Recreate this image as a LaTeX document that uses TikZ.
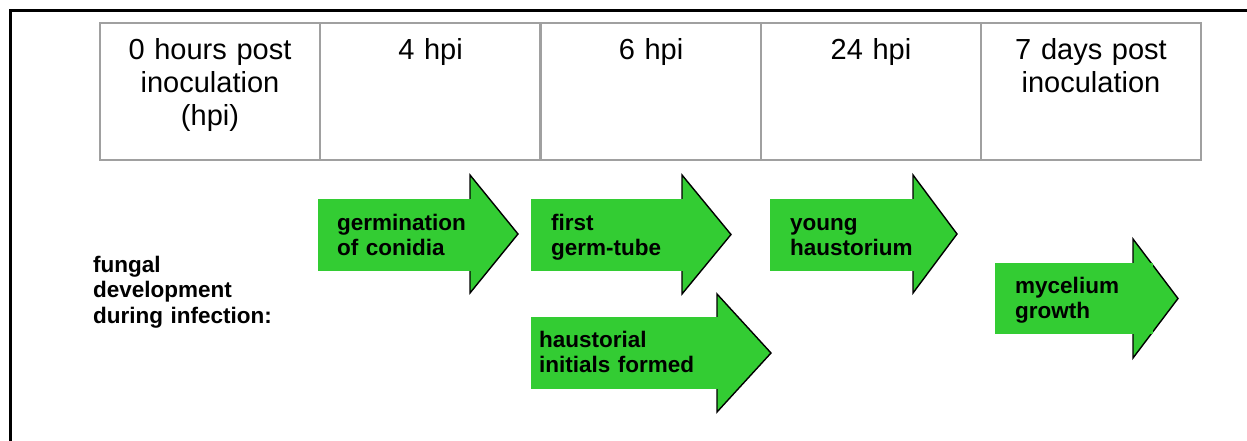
\documentclass[tikz,border=0pt]{standalone}
\usepackage{fontspec}
\setmainfont{Liberation Sans}
\definecolor{arrowgreen}{RGB}{51,204,51}
\definecolor{gridgray}{RGB}{160,160,160}
\begin{document}
\begin{tikzpicture}[x=1pt,y=-1pt,
  frameline/.style={line width=3pt,black},
  cellbox/.style={draw=gridgray,line width=1.2pt},
  headtext/.style={anchor=base,inner sep=0pt,text width=215pt,align=center,font=\fontsize{29}{33}\selectfont},
  lbl/.style={anchor=base west,inner sep=0pt,text width=220pt,align=left,font=\fontsize{22.5}{25.7}\selectfont\bfseries},
  headpart/.style={fill=arrowgreen,draw=black,line width=1.4pt,line join=miter},
  shaft/.style={fill=arrowgreen}]
\useasboundingbox (0,0) rectangle (1247,441);
% frame
\draw[frameline] (10.5,441) -- (10.5,10.5) -- (1247,10.5);
% table
\foreach \i/\x in {0/100,1/320,2/541,3/761,4/981}{
  \draw[cellbox] (\x,23) rectangle ++(220,137);
}
\node[headtext] (c0) at (210,60) {0 hours post\\inoculation\\(hpi)};
\node[headtext] (c1) at (430.5,60) {4 hpi};
\node[headtext] (c2) at (651,60) {6 hpi};
\node[headtext] (c3) at (871,60) {24 hpi};
\node[headtext] (c4) at (1091,60) {7 days post\\inoculation};
% arrows: #1 left, #2 shaft top, #3 shaft bottom, #4 head base, #5 head top, #6 head bottom, #7 tip
% arrow 1
\draw[headpart] (470,175) -- (518,234) -- (470,293) -- cycle;
\fill[shaft] (318,199) rectangle (472,271);
% arrow 2
\draw[headpart] (682,175) -- (731,234.5) -- (682,294) -- cycle;
\fill[shaft] (531,199) rectangle (683,271);
% arrow 3
\draw[headpart] (717,294) -- (771,353) -- (717,412) -- cycle;
\fill[shaft] (531,317) rectangle (719,389);
% arrow 4
\draw[headpart] (913,175) -- (957,234) -- (913,293) -- cycle;
\fill[shaft] (770,199) rectangle (915,271);
% arrow 5
\draw[headpart] (1133,239) -- (1178,298.5) -- (1133,358) -- cycle;
\fill[shaft] (995,263) rectangle (1153,334);
% labels
\node[lbl] (a1) at (337,230) {germination\\of conidia};
\node[lbl] (a2) at (551,230) {first\\germ-tube};
\node[lbl] (a3) at (539,347) {haustorial\\initials formed};
\node[lbl] (a4) at (790,230) {young\\haustorium};
\node[lbl] (a5) at (1015,293) {mycelium\\growth};
\node[lbl] (side) at (93,272) {fungal\\development\\during infection:};
\end{tikzpicture}
\end{document}
